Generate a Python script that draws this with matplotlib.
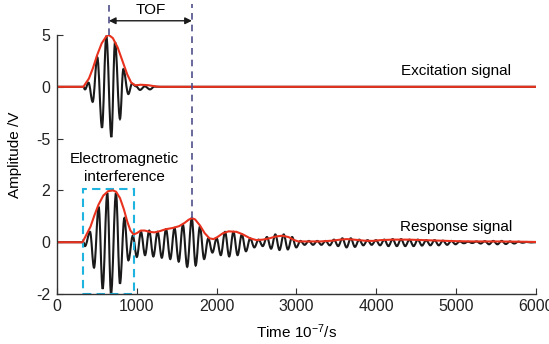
import matplotlib
matplotlib.use("Agg")
import matplotlib.pyplot as plt
from matplotlib.patches import Rectangle, PathPatch
from matplotlib.path import Path

plt.rcParams['font.family'] = ['Liberation Sans', 'DejaVu Sans']
plt.rcParams['mathtext.default'] = 'regular'

# excitation signal (V), extrema of the burst
exc_t = [0, 330, 351, 395, 447, 505, 564, 618, 681, 727, 789, 831, 894, 940,
         990, 1040, 1100, 1165, 1220, 1280, 6000]
exc_v = [0, 0, -0.25, 0.4, -1.45, 2.85, -3.95, 4.9, -4.85, 4.3, -3.1, 1.7, -0.7, 0.3,
         0.05, -0.3, 0.05, -0.25, 0.02, 0, 0]
exc_env_t = [0, 330, 400, 450, 500, 560, 620, 650, 700, 760, 820, 880, 930,
             980, 1050, 1150, 1250, 1300, 6000]
exc_env_v = [0, 0, 0.8, 1.8, 3.0, 4.2, 4.9, 5.0, 4.7, 3.8, 2.5, 1.2, 0.4,
             0.15, 0.2, 0.15, 0.02, 0, 0]

# response signal (V), extrema
resp_t = [0, 330, 351, 414, 464, 522, 572, 630, 677, 739, 789, 844, 894,
          950, 1000, 1052, 1103, 1155, 1207, 1260, 1313, 1366, 1419, 1472, 1525,
          1577, 1631, 1688, 1737, 1790, 1843, 1895, 1947, 2000, 2052, 2105, 2157,
          2210, 2262, 2315, 2367, 2420, 2472, 2525, 2577, 2630, 2682, 2735, 2787,
          2840, 2892, 2945, 2997, 3050, 3102, 3155, 3207, 3260, 3312, 3365, 3417,
          3470, 3522, 3575, 3627, 3680, 3732, 3785, 3837, 3890, 3942, 3995, 4047,
          4100, 4152, 4205, 4257, 4310, 4362, 4415, 4467, 4520, 4572, 4625, 4677,
          4730, 4782, 4835, 4887, 4940, 4992, 5045, 5097, 5150, 5202, 5255, 5307,
          5360, 5412, 5465, 5517, 5570, 5622, 5675, 5727, 5780, 5832, 5885, 5937, 6000]
resp_v = [0, 0, -0.15, 0.4, -0.98, 1.37, -1.8, 1.9, -2.0, 1.9, -1.6, 0.93, -0.7,
          0.25, -0.57, 0.4, -0.5, 0.45, -0.55, 0.4, -0.6, 0.5, -0.65, 0.55, -0.75,
          0.68, -0.95, 0.93, -0.9, 0.6, -0.65, 0.15, -0.4, 0.15, -0.5, 0.4, -0.55,
          0.4, -0.5, 0.3, -0.35, 0.15, -0.2, 0.1, -0.15, 0.2, -0.25, 0.3, -0.3,
          0.3, -0.28, 0.2, -0.2, 0.05, -0.1, 0.05, -0.1, 0.05, -0.1, 0.05, -0.12,
          0.1, -0.15, 0.15, -0.2, 0.15, -0.18, 0.1, -0.12, 0.08, -0.1, 0.08, -0.12,
          0.1, -0.15, 0.12, -0.15, 0.12, -0.15, 0.1, -0.15, 0.1, -0.13, 0.08, -0.12,
          0.08, -0.12, 0.06, -0.1, 0.05, -0.08, 0.03, -0.04, 0.02, -0.03, 0.03, -0.05,
          0.04, -0.08, 0.05, -0.08, 0.05, -0.07, 0.03, -0.05, 0.02, -0.02, 0.01, -0.01, 0]
resp_env_t = [0, 320, 370, 420, 470, 520, 580, 640, 700, 740, 790, 840, 880, 920,
              960, 1000, 1050, 1100, 1160, 1220, 1280, 1360, 1450, 1530, 1600, 1650,
              1690, 1730, 1790, 1850, 1910, 1960, 2010, 2080, 2150, 2250, 2330, 2420,
              2500, 2580, 2660, 2740, 2820, 2900, 2960, 3020, 3150, 3300, 3450, 3550,
              3630, 3720, 3850, 3950, 4050, 4200, 4400, 4600, 4800, 5000, 5200, 5500,
              5800, 6000]
resp_env_v = [0, 0, 0.3, 0.6, 1.05, 1.45, 1.8, 1.97, 2.0, 1.95, 1.7, 1.25, 0.8, 0.45,
              0.3, 0.35, 0.45, 0.45, 0.4, 0.38, 0.42, 0.5, 0.55, 0.62, 0.75, 0.87,
              0.93, 0.88, 0.65, 0.35, 0.15, 0.12, 0.2, 0.35, 0.42, 0.4, 0.3, 0.15,
              0.08, 0.1, 0.15, 0.22, 0.25, 0.2, 0.1, 0.03, 0.03, 0.03, 0.06, 0.1,
              0.12, 0.1, 0.06, 0.05, 0.08, 0.1, 0.1, 0.08, 0.06, 0.04, 0.03, 0.03,
              0.02, 0.01]

# excitation drawn above the response: offset 6, 5 V -> 2 units
EXC_OFF, EXC_SCALE = 6, 0.4
tof_start, tof_end = 650, 1690

black = '#1a1a1a'
red = '#e8321e'


def wave_path(ts, vs):
    # bezier segments with flat tangents at each extremum
    verts = [(ts[0], vs[0])]
    codes = [Path.MOVETO]
    for (t0, v0), (t1, v1) in zip(zip(ts[:-1], vs[:-1]), zip(ts[1:], vs[1:])):
        d = (t1 - t0) * 0.36
        verts += [(t0 + d, v0), (t1 - d, v1), (t1, v1)]
        codes += [Path.CURVE4] * 3
    return Path(verts, codes)


fig = plt.figure(figsize=(5.49, 3.44), dpi=100)
ax = fig.add_axes([0.1038, 0.1453, 0.8725, 0.7529])

ax.add_patch(PathPatch(wave_path(exc_t, [EXC_OFF + EXC_SCALE * v for v in exc_v]),
                       fill=False, edgecolor=black, lw=1.5))
ax.plot(exc_env_t, [EXC_OFF + EXC_SCALE * v for v in exc_env_v], color=red, lw=1.5)
ax.add_patch(PathPatch(wave_path(resp_t, resp_v), fill=False, edgecolor=black, lw=1.5))
ax.plot(resp_env_t, resp_env_v, color=red, lw=1.5)

ax.set_xlim(0, 6000)
ax.set_ylim(-2, 8)
ax.set_xticks([0, 1000, 2000, 3000, 4000, 5000, 6000])
ax.set_yticks([-2, 0, 2, 4, 6, 8])
ax.set_yticklabels(['-2', '0', '2', '-5', '0', '5'])
ax.tick_params(direction='in', length=4, labelsize=11.5, colors='#333333',
               labelcolor='#222222')
ax.tick_params(axis='y', pad=5)
for s in ['top', 'right']:
    ax.spines[s].set_visible(False)
for s in ['left', 'bottom']:
    ax.spines[s].set_color('#333333')
    ax.spines[s].set_linewidth(1.0)

ax.set_xlabel('Time 10$^{-7}$/s', fontsize=11, labelpad=6)
ax.set_ylabel('Amplitude /V', fontsize=11)
ax.yaxis.set_label_coords(-0.073, 0.537)

# TOF markers
dash_col = '#50508a'
ax.plot([tof_start, tof_start], [EXC_OFF + EXC_SCALE * 5, 9.2], ls=(0, (4, 3)),
        color=dash_col, lw=1.2, clip_on=False)
ax.plot([tof_end, tof_end], [0.93, 9.2], ls=(0, (4, 3)),
        color=dash_col, lw=1.2, clip_on=False)
ax.annotate('', xy=(tof_start, 8.55), xytext=(tof_end, 8.55),
            arrowprops=dict(arrowstyle='<|-|>', color=black, lw=1.0,
                            mutation_scale=10, shrinkA=0, shrinkB=0),
            annotation_clip=False)
ax.text((tof_start + tof_end) / 2, 8.97, 'TOF', ha='center', va='center',
        fontsize=11, clip_on=False)

# electromagnetic interference box
ax.add_patch(Rectangle((320, -2), 645, 4.05, fill=False, ls=(0, (4, 2.5)),
                       edgecolor='#1fb3e0', lw=1.5, clip_on=False))
ax.text(850, 2.87, 'Electromagnetic\ninterference', ha='center', va='center',
        fontsize=11, linespacing=1.3)

ax.text(5000, 6.62, 'Excitation signal', ha='center', va='center', fontsize=11)
ax.text(5000, 0.58, 'Response signal', ha='center', va='center', fontsize=11)

fig.savefig('out.png', dpi=100)
